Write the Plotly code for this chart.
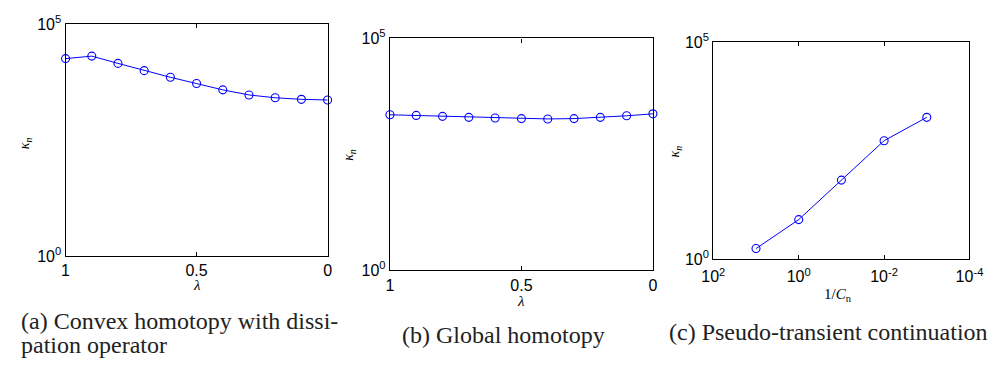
import plotly.graph_objects as go

# ---- data ----
lam = [1.0, 0.9, 0.8, 0.7, 0.6, 0.5, 0.4, 0.3, 0.2, 0.1, 0.0]
kappa_convex = [18150, 20550, 14330, 10000, 7200, 5260, 3850, 2990, 2600, 2405, 2330]
kappa_global = [2260, 2190, 2090, 1990, 1930, 1870, 1840, 1870, 1990, 2150, 2370]
inv_cn = [10, 1, 0.1, 0.01, 0.001]
kappa_ptc = [1.74, 8.1, 66, 536, 1853]

lam_ticks = [1, 0.5, 0]
lam_ticktext = ["1", "0.5", "0"]
y_ticks = [1, 1e5]
y_ticktext = ["10<sup>0</sup>", "10<sup>5</sup>"]
c_ticks = [100, 1, 0.01, 0.0001]
c_ticktext = ["10<sup>2</sup>", "10<sup>0</sup>", "10<sup>-2</sup>", "10<sup>-4</sup>"]

# caption lines: text, x, y (pixels), anchor
captions = [
    ("(a) Convex homotopy with dissi-", 7, 327, "left"),
    ("pation operator", 7, 353, "left"),
    ("(b) Global homotopy", 505, 342, "center"),
    ("(c) Pseudo-transient continuation", 838, 339, "center"),
]

W, H = 1002, 374
BLUE = "#0000ff"
SANS = "Liberation Sans"
SERIF = "Liberation Serif"


def px_x(x):
    return x / W


def px_y(y):
    return 1 - y / H


# plot rectangles in pixels: left, right, top, bottom
boxes = [(55, 324, 14, 259), (388, 658, 29, 274), (720, 983, 33, 262)]

fig = go.Figure()

series = [(lam, kappa_convex), (lam, kappa_global), (inv_cn, kappa_ptc)]
for i, (xs, ys) in enumerate(series):
    sfx = "" if i == 0 else str(i + 1)
    fig.add_trace(go.Scatter(
        x=xs, y=ys, mode="lines+markers",
        line=dict(color=BLUE, width=1),
        marker=dict(symbol="circle-open", size=8, color=BLUE, line=dict(width=1.1)),
        xaxis="x" + sfx, yaxis="y" + sfx, showlegend=False, cliponaxis=False,
    ))

axis_common = dict(
    showgrid=False, zeroline=False, showline=True, linecolor="black", linewidth=1.3,
    mirror="allticks", ticks="inside", ticklen=4, tickcolor="black",
    tickfont=dict(family=SANS, size=16, color="black"),
)

layout = dict(
    width=W, height=H, margin=dict(l=0, r=0, t=0, b=0),
    paper_bgcolor="white", plot_bgcolor="white",
    font=dict(family=SANS),
)

for i, (l, r, t, b) in enumerate(boxes):
    sfx = "" if i == 0 else str(i + 1)
    xa = dict(axis_common)
    xa.update(domain=[px_x(l), px_x(r)], anchor="y" + sfx)
    if i < 2:
        xa.update(range=[1, 0], tickvals=lam_ticks, ticktext=lam_ticktext)
    else:
        xa.update(type="log", range=[2, -4], tickvals=c_ticks, ticktext=c_ticktext,
                  ticklabelstandoff=3)
    ya = dict(axis_common)
    ya.update(domain=[px_y(b), px_y(t)], anchor="x" + sfx, type="log", range=[0, 5],
              tickvals=y_ticks, ticktext=y_ticktext, ticklen=0)
    layout["xaxis" + sfx] = xa
    layout["yaxis" + sfx] = ya

annotations = []
# y-axis labels
for x, y in [(14, 140), (347, 152), (681, 148)]:
    annotations.append(dict(
        text="<i>κ<sub>n</sub></i>", x=px_x(x), y=px_y(y), xref="paper", yref="paper",
        showarrow=False, textangle=-90, font=dict(family=SERIF, size=14, color="black"),
        xanchor="center", yanchor="middle",
    ))
# x-axis labels
for text, x, y in [("<i>λ</i>", 190, 290), ("<i>λ</i>", 523, 306),
                   ("1/<i>C</i><sub>n</sub>", 848, 300)]:
    annotations.append(dict(
        text=text, x=px_x(x), y=px_y(y), xref="paper", yref="paper", showarrow=False,
        font=dict(family=SERIF, size=15, color="black"), xanchor="center", yanchor="middle",
    ))
# sub-figure captions
for text, x, y, anchor in captions:
    annotations.append(dict(
        text=text, x=px_x(x), y=px_y(y), xref="paper", yref="paper", showarrow=False,
        font=dict(family=SERIF, size=24, color="#222222"), xanchor=anchor, yanchor="middle",
        align="left",
    ))
layout["annotations"] = annotations

fig.update_layout(**layout)
fig.write_html("out.html")
